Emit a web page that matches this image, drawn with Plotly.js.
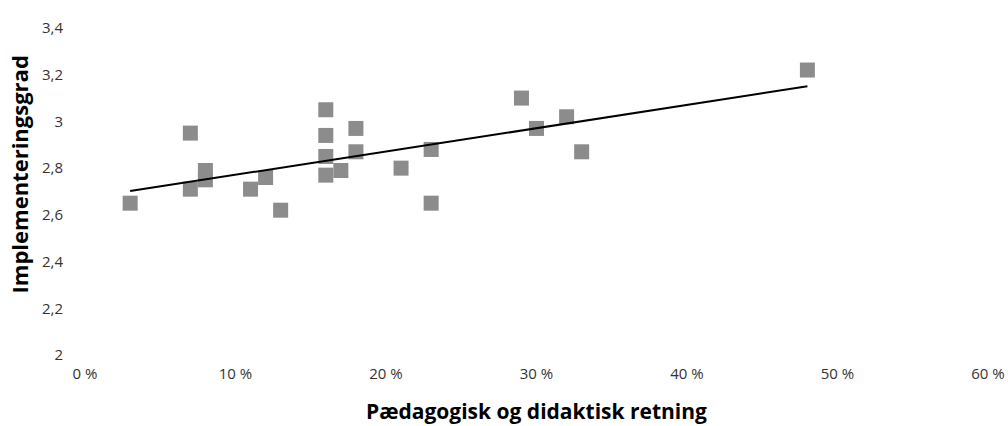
<!DOCTYPE html>
<html><head><meta charset="utf-8">
<script src="https://cdn.plot.ly/plotly-3.0.1.min.js"></script>
<style>html,body{margin:0;padding:0;background:#fff}#c{width:1008px;height:426px}</style>
</head><body><div id="c"></div>
<script>
const retning = [0.03,0.07,0.07,0.08,0.08,0.11,0.12,0.13,0.16,0.16,0.16,0.16,0.17,0.18,0.18,0.21,0.23,0.23,0.29,0.30,0.32,0.33,0.48];
const grad    = [2.65,2.95,2.71,2.79,2.75,2.71,2.76,2.62,3.05,2.94,2.85,2.77,2.79,2.97,2.87,2.80,2.88,2.65,3.10,2.97,3.02,2.87,3.22];
const xTickVals = [0,0.1,0.2,0.3,0.4,0.5,0.6];
const xTickText = ["0 %","10 %","20 %","30 %","40 %","50 %","60 %"];
const yTickVals = [2,2.2,2.4,2.6,2.8,3,3.2,3.4];
const yTickText = ["2","2,2","2,4","2,6","2,8","3","3,2","3,4"];
const xTitle = 'Pædagogisk og didaktisk retning';
const yTitle = 'Implementeringsgrad';

// linear trendline (least squares) from the data
const n = retning.length;
const mx = retning.reduce((a,b)=>a+b,0)/n, my = grad.reduce((a,b)=>a+b,0)/n;
let sxy=0,sxx=0;
for(let i=0;i<n;i++){sxy+=(retning[i]-mx)*(grad[i]-my);sxx+=(retning[i]-mx)**2;}
const slope=sxy/sxx, icpt=my-slope*mx;
const xMin=Math.min(...retning), xMax=Math.max(...retning);
const trendX=[xMin,xMax], trendY=[icpt+slope*xMin, icpt+slope*xMax];

const font = "'Open Sans', sans-serif";
Plotly.newPlot('c',[
 {x:retning,y:grad,type:'scatter',mode:'markers',marker:{symbol:'square',size:15,color:'#8c8c8c'},showlegend:false},
 {x:trendX,y:trendY,type:'scatter',mode:'lines',line:{color:'#000',width:2},showlegend:false}
],{
 width:1008,height:426,
 margin:{l:85,r:20,t:28,b:71},
 paper_bgcolor:'#fff',plot_bgcolor:'#fff',
 font:{family:font,size:15,color:'#333'},
 xaxis:{range:[0,0.6],tickvals:xTickVals,ticktext:xTickText,showgrid:false,zeroline:false,showline:false,
   ticks:'outside',ticklen:5,tickcolor:'rgba(0,0,0,0)',tickfont:{size:15,color:'#333',family:font},
   title:{text:xTitle,font:{size:21,color:'#000',family:font,weight:'bold'},standoff:22}},
 yaxis:{range:[2,3.4],tickvals:yTickVals,ticktext:yTickText,showgrid:false,zeroline:false,showline:false,
   ticks:'outside',ticklen:18,tickcolor:'rgba(0,0,0,0)',tickfont:{size:15,color:'#333',family:font}},
 annotations:[{text:yTitle,textangle:-90,xref:'paper',yref:'paper',x:-0.072,y:0.552,xanchor:'center',yanchor:'middle',
   showarrow:false,font:{size:22,color:'#000',family:font,weight:'bold'}}]
},{displayModeBar:false,staticPlot:true});
</script></body></html>
